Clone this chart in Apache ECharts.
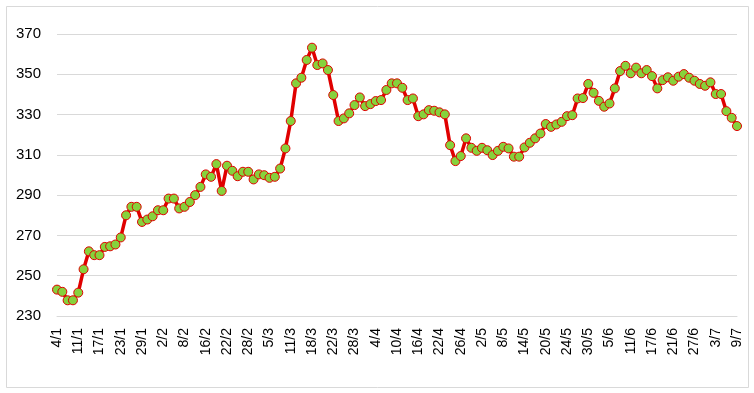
<!DOCTYPE html>
<html>
<head>
<meta charset="utf-8">
<script src="https://cdn.jsdelivr.net/npm/echarts@6/dist/echarts.min.js"></script>
<style>
html,body{margin:0;padding:0;background:#fff;}
#chart{width:754px;height:393px;}
</style>
</head>
<body>
<div id="chart"></div>
<script>
const dates = [
'4/1','7/1','8/1','10/1','11/1','14/1','15/1','16/1','17/1','18/1','21/1','22/1','23/1','24/1','25/1','28/1','29/1',
'30/1','31/1','1/2','2/2','5/2','6/2','7/2','8/2','9/2','12/2','15/2','16/2','19/2','20/2','21/2','22/2',
'23/2','26/2','27/2','28/2','1/3','2/3','4/3','5/3','6/3','7/3','8/3','11/3','12/3','13/3','15/3','18/3',
'19/3','20/3','21/3','22/3','25/3','26/3','27/3','28/3','29/3','1/4','2/4','4/4','5/4','8/4','9/4','10/4',
'11/4','12/4','15/4','16/4','17/4','18/4','19/4','22/4','23/4','24/4','25/4','26/4','29/4','30/4','1/5','2/5',
'3/5','6/5','7/5','8/5','9/5','10/5','13/5','14/5','15/5','16/5','17/5','20/5','21/5','22/5','23/5','24/5',
'27/5','28/5','29/5','30/5','31/5','3/6','4/6','5/6','6/6','7/6','10/6','11/6','12/6','13/6','14/6','17/6',
'18/6','19/6','20/6','21/6','24/6','25/6','26/6','27/6','28/6','1/7','2/7','3/7','4/7','5/7','8/7','9/7'
];
const values = [
243.1,242.0,237.8,237.8,241.6,253.2,262.1,260.2,260.2,264.3,264.6,265.5,269.0,280.0,284.2,284.2,276.7,
277.9,279.5,282.5,282.5,288.3,288.3,283.4,284.2,286.6,290.0,294.1,300.3,299.1,305.4,292.1,304.6,302.1,299.4,
301.6,301.6,297.8,300.3,299.9,298.6,299.1,303.2,313.2,326.8,345.5,348.3,357.1,363.2,354.6,355.4,352.1,
339.7,326.8,328.1,330.6,334.7,338.5,334.2,335.2,336.7,337.2,342.2,345.5,345.5,343.3,337.2,338.0,329.2,
330.1,332.2,331.9,331.1,330.1,314.8,306.9,309.4,318.2,313.5,312.0,313.5,312.3,309.9,312.0,314.0,313.2,
309.1,309.1,313.7,316.0,318.2,320.6,325.3,323.9,325.1,326.4,329.2,329.7,338.0,338.2,345.2,340.8,336.8,
333.9,335.5,343.0,351.6,354.2,350.5,353.3,350.5,352.1,349.1,343.0,347.1,348.5,346.8,348.8,350.1,348.3,
346.8,345.2,344.3,346.0,340.2,340.2,331.7,328.4,324.3
];
const yTicks = [230,250,270,290,310,330,350,370];

const chart = echarts.init(document.getElementById('chart'), null, {renderer:'canvas'});
chart.setOption({
  animation:false,
  backgroundColor:'#ffffff',
  graphic:[{type:'rect',left:4,top:4,shape:{width:742,height:381},style:{fill:'none',stroke:'#d9d9d9',lineWidth:1},silent:true}],
  grid:{left:57,right:17,top:34,bottom:77},
  xAxis:{
    type:'category',data:dates,boundaryGap:false,
    axisLine:{show:true,lineStyle:{color:'#d9d9d9',width:1}},
    axisTick:{show:false},
    axisLabel:{interval:3,rotate:90,fontFamily:'Liberation Sans, Arial',fontSize:14,color:'#000',margin:12},
    splitLine:{show:false}
  },
  yAxis:{
    type:'value',min:yTicks[0],max:yTicks[yTicks.length-1],interval:20,
    axisLine:{show:false},axisTick:{show:false},
    axisLabel:{fontFamily:'Liberation Sans, Arial',fontSize:15,color:'#000',margin:16},
    splitLine:{lineStyle:{color:'#d9d9d9',width:1}}
  },
  series:[{
    type:'line',data:values,
    lineStyle:{color:'#e00000',width:3.5},
    symbol:'circle',symbolSize:9,
    itemStyle:{color:'#86d23c',borderColor:'#e00000',borderWidth:1},
    showAllSymbol:true
  }]
});
</script>
</body>
</html>
